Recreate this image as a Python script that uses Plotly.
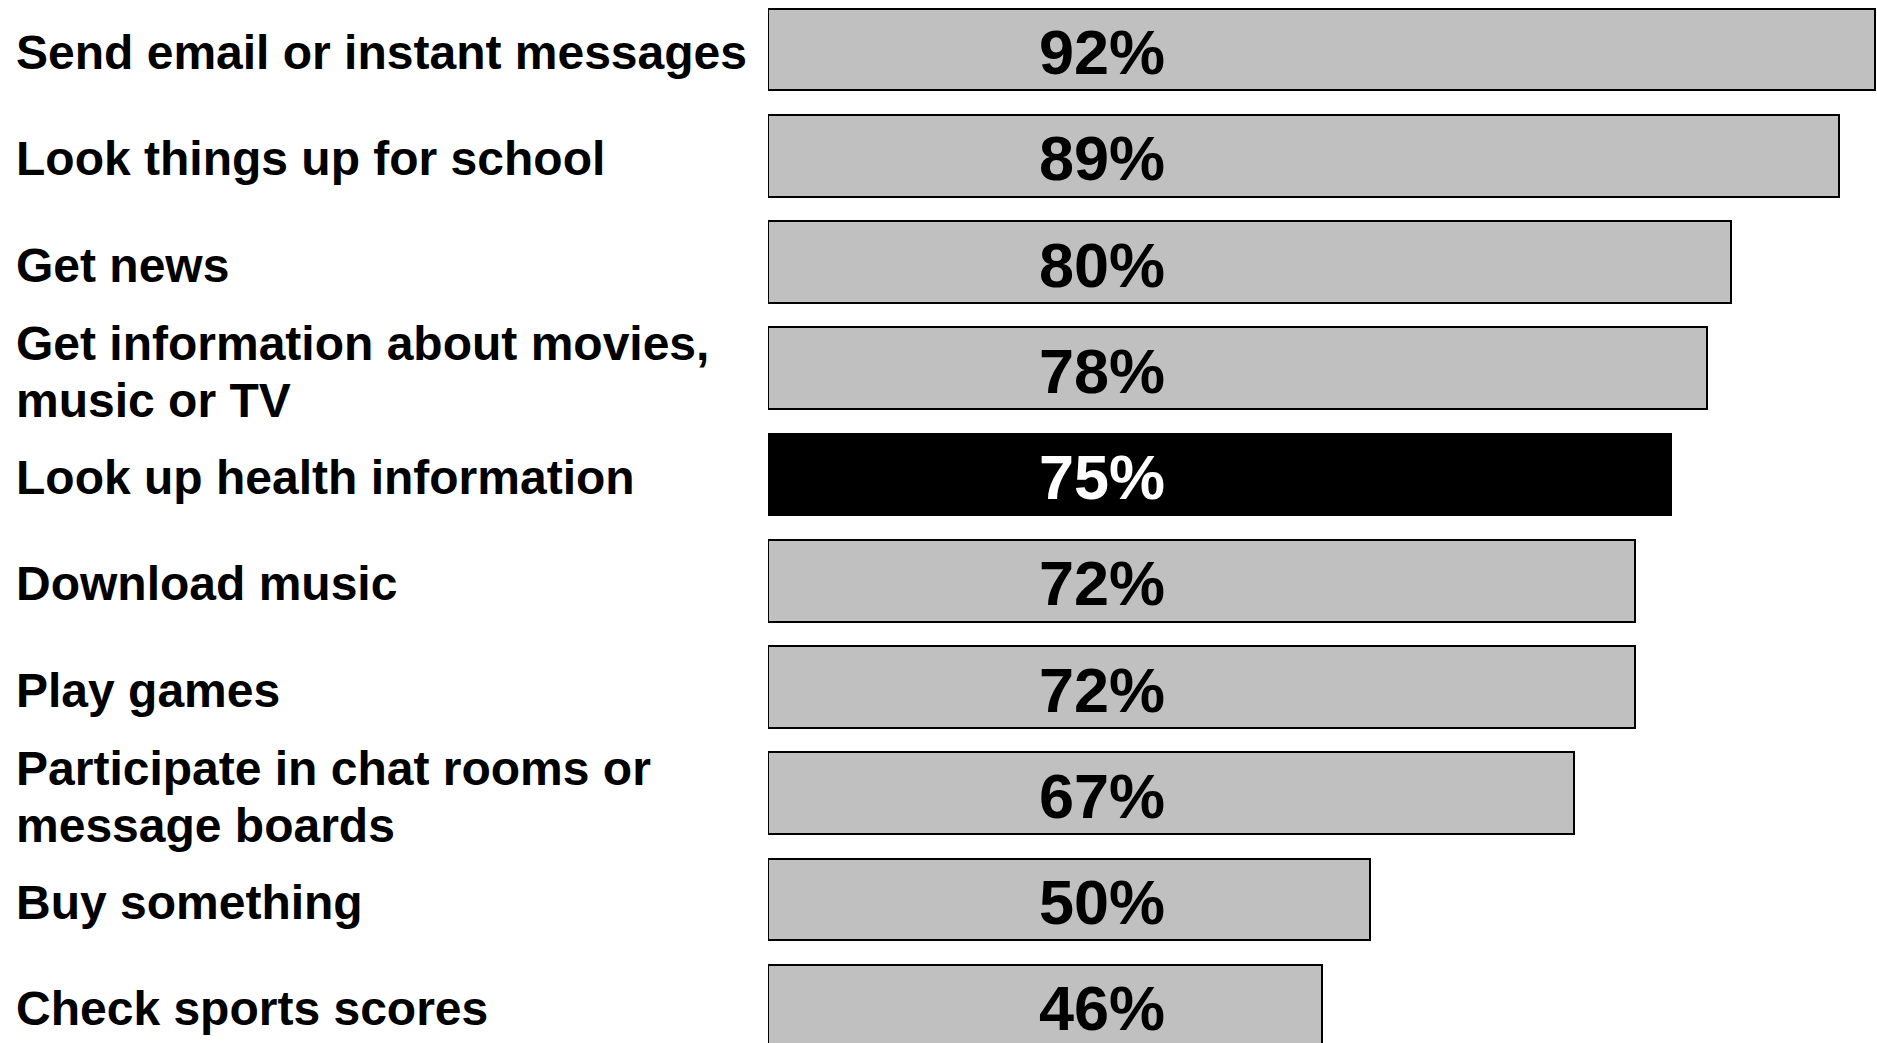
import plotly.graph_objects as go

categories = [
    "Send email or instant messages",
    "Look things up for school",
    "Get news",
    "Get information about movies,<br>music or TV",
    "Look up health information",
    "Download music",
    "Play games",
    "Participate in chat rooms or<br>message boards",
    "Buy something",
    "Check sports scores",
]
values = [92, 89, 80, 78, 75, 72, 72, 67, 50, 46]
highlight = "Look up health information"

W, H = 1877, 1043
ML = 768
FONT = "Liberation Sans, Arial, Helvetica, sans-serif"

ypos = list(range(len(categories)))
colors = ["#000000" if c == highlight else "#C0C0C0" for c in categories]
text_colors = ["#FFFFFF" if c == highlight else "#000000" for c in categories]

fig = go.Figure()
fig.add_trace(go.Bar(
    x=values, y=ypos, orientation="h",
    marker=dict(color=colors, line=dict(color="#000000", width=2)),
    width=0.77, hoverinfo="skip",
))

annotations = []
LINE_GAP = 57
for i, (cat, v) in enumerate(zip(categories, values)):
    lines = cat.split("<br>")
    n = len(lines)
    for j, ln in enumerate(lines):
        shift = ((n - 1) / 2 - j) * LINE_GAP - (3 if n == 1 else 4)
        annotations.append(dict(
            x=(14 - ML) / (W - ML), xref="paper", xanchor="left",
            y=i, yref="y", yanchor="middle", yshift=shift,
            text=ln, showarrow=False,
            font=dict(family=FONT, size=48, color="#000000", weight="bold"),
        ))
    annotations.append(dict(
        x=27.75, xref="x", xanchor="center",
        y=i, yref="y", yanchor="middle", yshift=-2.5,
        text=f"{v}%", showarrow=False,
        font=dict(family=FONT, size=63, color=text_colors[i], weight="bold"),
    ))

fig.update_layout(
    width=W, height=H,
    margin=dict(l=ML, r=0, t=0, b=0),
    paper_bgcolor="white", plot_bgcolor="white",
    showlegend=False,
    xaxis=dict(range=[0, 92.15], visible=False, fixedrange=True),
    yaxis=dict(range=[9.35, -0.466], visible=False, fixedrange=True),
    annotations=annotations,
    bargap=0,
)

fig.write_html(
    "out.html",
    config={"displayModeBar": False},
    post_script="document.body.style.margin='0px';document.body.style.overflow='hidden';",
)
